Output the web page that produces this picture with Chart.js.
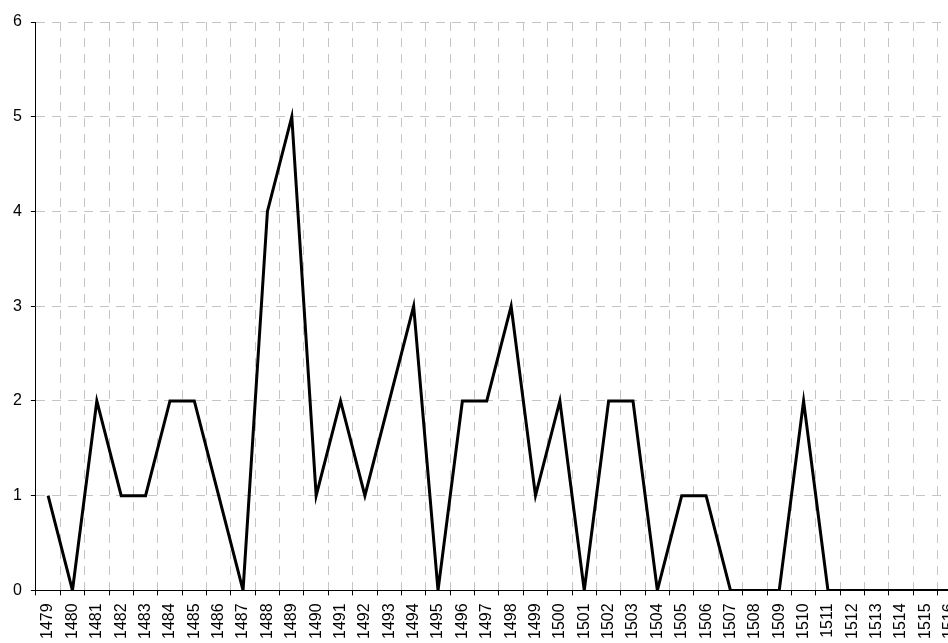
<!DOCTYPE html>
<html>
<head>
<meta charset="utf-8">
<script src="https://cdn.jsdelivr.net/npm/chart.js@4/dist/chart.umd.min.js"></script>
<style>
  html, body { margin: 0; padding: 0; background: #fff; }
  #wrap { width: 948px; height: 643px; overflow: hidden; position: relative; background: #fff; }
  #c { position: absolute; left: 0; top: 0; }
</style>
</head>
<body>
<div id="wrap"><canvas id="c" width="980" height="660"></canvas></div>
<script>
const years = ["1479","1480","1481","1482","1483","1484","1485","1486","1487","1488",
  "1489","1490","1491","1492","1493","1494","1495","1496","1497","1498",
  "1499","1500","1501","1502","1503","1504","1505","1506","1507","1508",
  "1509","1510","1511","1512","1513","1514","1515","1516"];
const counts = [1,0,2,1,1,2,2,1,0,4,
  5,1,2,1,2,3,0,2,2,3,
  1,2,0,2,2,0,1,1,0,0,
  0,2,0,0,0,0,0,0];
const yTicks = [0,1,2,3,4,5,6];

new Chart(document.getElementById('c'), {
  type: 'line',
  data: {
    labels: years,
    datasets: [{
      data: counts,
      borderColor: '#000',
      borderWidth: 3,
      pointRadius: 0,
      tension: 0,
      fill: false
    }]
  },
  options: {
    responsive: false,
    animation: false,
    layout: { padding: { left: 4, right: 18, top: 22, bottom: 13 } },
    plugins: { legend: { display: false }, tooltip: { enabled: false } },
    scales: {
      x: {
        offset: true,
        grid: {
          offset: true,
          color: '#c4c4c4',
          lineWidth: 1,
          tickLength: 5,
          tickColor: '#000'
        },
        border: { display: true, color: '#000', width: 1, dash: [9, 7] },
        ticks: {
          autoSkip: false,
          minRotation: 90,
          maxRotation: 90,
          padding: 8,
          color: '#000',
          font: { family: 'Liberation Sans, Arial', size: 16 }
        }
      },
      y: {
        min: 0,
        max: 6,
        afterBuildTicks: (axis) => { axis.ticks = yTicks.map(v => ({ value: v })); },
        grid: {
          color: '#c4c4c4',
          lineWidth: 1,
          tickLength: 5,
          tickColor: '#000'
        },
        border: { display: true, color: '#000', width: 1, dash: [9, 7] },
        ticks: {
          padding: 9,
          color: '#000',
          font: { family: 'Liberation Sans, Arial', size: 16 }
        }
      }
    }
  }
});
</script>
</body>
</html>
